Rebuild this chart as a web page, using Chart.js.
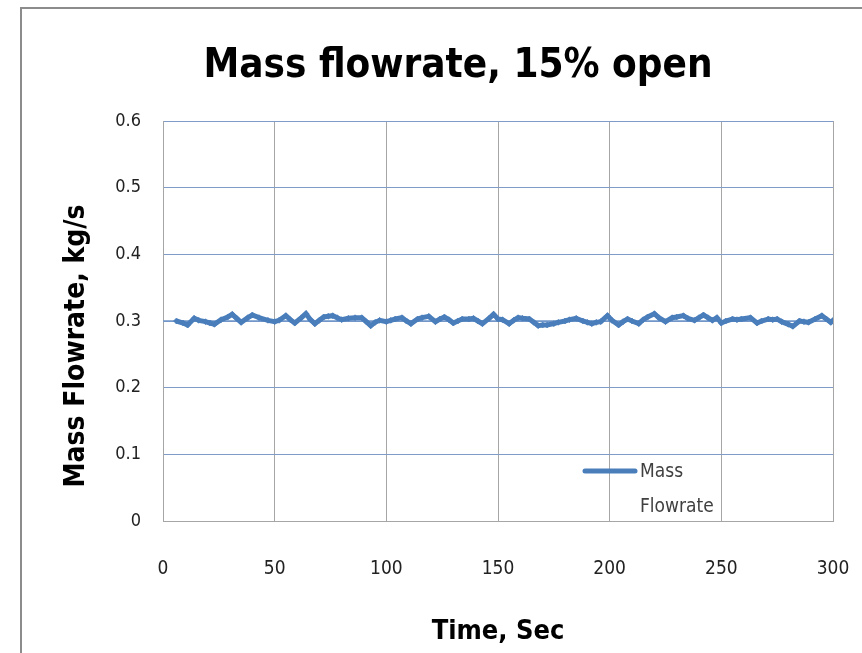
<!DOCTYPE html>
<html>
<head>
<meta charset="utf-8">
<title>Mass flowrate, 15% open</title>
<script src="https://cdn.jsdelivr.net/npm/chart.js@4/dist/chart.umd.min.js"></script>
<style>
  html, body { margin: 0; padding: 0; background: #fff; }
  #wrap { width: 862px; height: 653px; }
</style>
</head>
<body>
<div id="wrap"><canvas id="flow" width="862" height="653"></canvas></div>
<script>
// Time samples (s) and measured mass flowrate (kg/s).
const times = [6, 9, 11, 14, 16, 19, 21, 23, 26, 29, 31, 33, 35, 38, 40, 43, 47, 50, 52, 55,
  57, 59, 62, 64, 66, 68, 70, 72, 74, 76, 78, 80, 83, 86, 89, 91, 93, 95, 97, 100,
  102, 104, 107, 109, 111, 114, 116, 119, 122, 124, 126, 128, 130, 132, 134, 137, 139, 141, 143, 146,
  148, 150, 152, 155, 157, 159, 161, 164, 166, 168, 170, 172, 175, 177, 180, 182, 185, 188, 190, 192,
  194, 196, 199, 201, 204, 206, 208, 210, 213, 215, 217, 220, 222, 225, 228, 230, 233, 235, 238, 240,
  242, 244, 246, 248, 250, 252, 255, 257, 259, 263, 266, 268, 271, 273, 275, 277, 280, 282, 285, 287,
  289, 292, 295, 297, 299, 300];
const flowrate = [0.300, 0.297, 0.294, 0.304, 0.301, 0.299, 0.297, 0.295, 0.302, 0.306, 0.310, 0.304, 0.298, 0.305, 0.309, 0.305, 0.301, 0.299, 0.301, 0.308,
  0.302, 0.297, 0.305, 0.311, 0.302, 0.296, 0.301, 0.306, 0.307, 0.308, 0.305, 0.302, 0.304, 0.305, 0.305, 0.299, 0.293, 0.298, 0.301, 0.299,
  0.301, 0.303, 0.305, 0.300, 0.296, 0.303, 0.305, 0.307, 0.299, 0.303, 0.306, 0.302, 0.297, 0.300, 0.303, 0.303, 0.304, 0.300, 0.296, 0.304,
  0.310, 0.303, 0.302, 0.296, 0.301, 0.305, 0.304, 0.303, 0.298, 0.293, 0.294, 0.294, 0.296, 0.298, 0.300, 0.302, 0.304, 0.300, 0.298, 0.296,
  0.298, 0.299, 0.308, 0.301, 0.294, 0.299, 0.303, 0.300, 0.296, 0.302, 0.306, 0.311, 0.305, 0.299, 0.305, 0.306, 0.308, 0.304, 0.301, 0.305,
  0.309, 0.305, 0.301, 0.305, 0.297, 0.300, 0.303, 0.302, 0.303, 0.305, 0.297, 0.300, 0.303, 0.302, 0.303, 0.299, 0.295, 0.292, 0.300, 0.299,
  0.298, 0.303, 0.308, 0.303, 0.298, 0.301];
// Thin reference level under the measured trace.
const levelTimes = [0, 300];
const levelValues = [0.3, 0.3];

const xTicks = [0, 50, 100, 150, 200, 250, 300];
const yTicks = [0, 0.1, 0.2, 0.3, 0.4, 0.5, 0.6];

const BLUE = '#4A7EBB';
const FONT = "'DejaVu Sans Condensed', 'DejaVu Sans', sans-serif";
const Y_TITLE = 'Mass Flowrate, kg/s';

// White page plus the grey chart frame (left and top edges).
const framePlugin = {
  id: 'frame',
  beforeDraw(chart) {
    const { ctx, width, height } = chart;
    ctx.save();
    ctx.fillStyle = '#fff';
    ctx.fillRect(0, 0, width, height);
    ctx.strokeStyle = '#8c8c8c';
    ctx.lineWidth = 2;
    ctx.beginPath();
    ctx.moveTo(21, height);
    ctx.lineTo(21, 8);
    ctx.lineTo(width, 8);
    ctx.stroke();
    ctx.restore();
  },
};

// Y axis title sits a little below the middle of the plot, left of the tick labels.
const yTitlePlugin = {
  id: 'yTitle',
  afterDraw(chart) {
    const { ctx, chartArea } = chart;
    ctx.save();
    ctx.translate(77, (chartArea.top + chartArea.bottom) / 2 + 25);
    ctx.rotate(-Math.PI / 2);
    ctx.fillStyle = '#000';
    ctx.font = 'bold 28px ' + FONT;
    ctx.textAlign = 'center';
    ctx.textBaseline = 'middle';
    ctx.fillText(Y_TITLE, 0, 0);
    ctx.restore();
  },
};

// Legend sits inside the plot, label wrapped on two lines.
const insideLegend = {
  id: 'insideLegend',
  afterDatasetsDraw(chart) {
    const { ctx, chartArea } = chart;
    const ds = chart.data.datasets[0];
    const x0 = chartArea.left + 422, y0 = chartArea.bottom - 50;
    ctx.save();
    ctx.strokeStyle = ds.borderColor;
    ctx.lineWidth = 5;
    ctx.lineCap = 'round';
    ctx.beginPath();
    ctx.moveTo(x0, y0);
    ctx.lineTo(x0 + 50, y0);
    ctx.stroke();
    ctx.fillStyle = '#404040';
    ctx.font = '19px ' + FONT;
    ctx.textBaseline = 'middle';
    const lines = ds.label.split(' ');
    lines.forEach((t, i) => ctx.fillText(t, x0 + 55, y0 + 1 + i * 35));
    ctx.restore();
  },
};

new Chart(document.getElementById('flow'), {
  type: 'line',
  data: {
    datasets: [
      {
        label: 'Mass Flowrate',
        data: times.map((t, i) => ({ x: t, y: flowrate[i] })),
        borderColor: BLUE,
        backgroundColor: BLUE,
        borderWidth: 5,
        pointStyle: 'rectRot',
        pointRadius: 3,
        pointBorderWidth: 1,
        pointBorderColor: 'rgba(74,126,187,0.55)',
        tension: 0,
      },
      {
        label: 'level',
        data: levelTimes.map((t, i) => ({ x: t, y: levelValues[i] })),
        borderColor: '#6E95C8',
        borderWidth: 1.5,
        pointRadius: 0,
        tension: 0,
      },
    ],
  },
  options: {
    responsive: false,
    animation: false,
    layout: { padding: { left: 83, right: 29, top: 0, bottom: 0 } },
    plugins: {
      legend: { display: false },
      tooltip: { enabled: false },
      title: {
        display: true,
        text: 'Mass flowrate, 15% open',
        color: '#000',
        font: { family: FONT, size: 40, weight: 'bold', lineHeight: 1.2 },
        padding: { top: 43, bottom: 30 },
      },
    },
    scales: {
      x: {
        type: 'linear',
        min: 0,
        max: 300,
        afterBuildTicks: (s) => { s.ticks = xTicks.map((v) => ({ value: v })); },
        afterFit: (s) => { s.height = 132; },
        // invisible tick marks push the labels down without widening the axis padding
        grid: { color: '#A6A6A6', lineWidth: 1, drawTicks: true, tickLength: 35, tickColor: 'rgba(0,0,0,0)' },
        border: { color: '#A6A6A6', width: 1 },
        ticks: { color: '#222', font: { family: FONT, size: 19 }, padding: 2, maxRotation: 0 },
        title: {
          display: true,
          text: 'Time, Sec',
          color: '#000',
          font: { family: FONT, size: 27, weight: 'bold', lineHeight: 1.2 },
          padding: { top: 0, bottom: 5 },
        },
      },
      y: {
        min: 0,
        max: 0.6,
        afterBuildTicks: (s) => { s.ticks = yTicks.map((v) => ({ value: v })); },
        afterFit: (s) => { s.width = 80; },
        grid: { color: '#7F9CC9', lineWidth: 1, drawTicks: true, tickLength: 20, tickColor: 'rgba(0,0,0,0)' },
        border: { color: '#A6A6A6', width: 1 },
        ticks: { color: '#222', font: { family: FONT, size: 18 }, padding: 2, callback: (v) => String(v) },
        title: { display: false },
      },
    },
  },
  plugins: [framePlugin, yTitlePlugin, insideLegend],
});
</script>
</body>
</html>
